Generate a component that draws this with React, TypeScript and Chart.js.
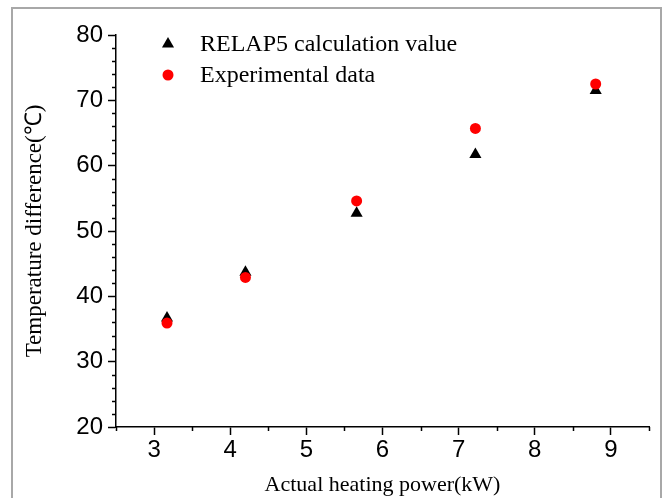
import React, { useEffect, useRef } from "react";
import { Chart, registerables } from "chart.js";

Chart.register(...registerables);

const heatingPower = [3.17, 4.2, 5.66, 7.22, 8.8];
const relap5Values = [36.7, 43.7, 52.7, 61.7, 71.5];
const experimentalValues = [35.9, 42.9, 54.6, 65.7, 72.5];
const seriesLabels = ["RELAP5 calculation value", "Experimental data"];
const xTickValues = [3, 4, 5, 6, 7, 8, 9];
const yTickValues = [20, 30, 40, 50, 60, 70, 80];
const xTitle = "Actual heating power(kW)";
const yTitle = "Temperature difference(\u2103)";

const SERIF = "'Liberation Serif', 'Times New Roman', serif";
const SANS = "'Liberation Sans', Arial, sans-serif";

const extrasPlugin = {
  id: "extras",
  afterDraw(chart: any) {
    const ctx = chart.ctx as CanvasRenderingContext2D;
    const xs = chart.scales.x;
    const ys = chart.scales.y;
    const area = chart.chartArea;
    ctx.save();
    ctx.strokeStyle = "#000";
    ctx.lineWidth = 1.5;
    // minor ticks on y
    for (let v = 22; v < 80; v += 2) {
      if (v % 10 === 0) continue;
      const py = Math.round(ys.getPixelForValue(v)) + 0.5;
      ctx.beginPath();
      ctx.moveTo(area.left - 4, py);
      ctx.lineTo(area.left, py);
      ctx.stroke();
    }
    // minor ticks on x
    for (let v = 2.5; v <= 9.5; v += 1) {
      const px = Math.round(xs.getPixelForValue(v)) + 0.5;
      ctx.beginPath();
      ctx.moveTo(px, area.bottom);
      ctx.lineTo(px, area.bottom + 4);
      ctx.stroke();
    }
    // legend
    const lx = 168;
    const ly1 = 44;
    const ly2 = 75;
    ctx.fillStyle = "#000";
    ctx.beginPath();
    const r = 7;
    ctx.moveTo(lx, ly1 - r);
    ctx.lineTo(lx + r * Math.sin((2 * Math.PI) / 3), ly1 - r * Math.cos((2 * Math.PI) / 3));
    ctx.lineTo(lx + r * Math.sin((4 * Math.PI) / 3), ly1 - r * Math.cos((4 * Math.PI) / 3));
    ctx.closePath();
    ctx.fill();
    ctx.fillStyle = "#ff0000";
    ctx.beginPath();
    ctx.arc(lx, ly2, 5.5, 0, Math.PI * 2);
    ctx.fill();
    ctx.fillStyle = "#000";
    ctx.font = `24px ${SERIF}`;
    ctx.textBaseline = "middle";
    ctx.textAlign = "left";
    ctx.fillText(seriesLabels[0], 200, ly1 + 1);
    ctx.fillText(seriesLabels[1], 200, ly2 + 1);
    ctx.restore();
  },
};

export default function App() {
  const canvasRef = useRef<HTMLCanvasElement | null>(null);

  useEffect(() => {
    const canvas = canvasRef.current;
    if (!canvas) return;
    const chart = new Chart(canvas, {
      type: "scatter",
      data: {
        datasets: [
          {
            label: seriesLabels[0],
            data: heatingPower.map((x, i) => ({ x, y: relap5Values[i] })),
            pointStyle: "triangle",
            pointRadius: 7,
            pointBackgroundColor: "#000",
            pointBorderColor: "#000",
            pointBorderWidth: 0,
            order: 1,
          },
          {
            label: seriesLabels[1],
            data: heatingPower.map((x, i) => ({ x, y: experimentalValues[i] })),
            pointStyle: "circle",
            pointRadius: 5.5,
            pointBackgroundColor: "#ff0000",
            pointBorderColor: "#ff0000",
            pointBorderWidth: 0,
            order: 0,
          },
        ],
      },
      options: {
        animation: false,
        responsive: false,
        maintainAspectRatio: false,
        layout: { padding: { left: 0, right: 14, top: 35, bottom: 0 } },
        plugins: {
          legend: { display: false },
          tooltip: { enabled: false },
        },
        scales: {
          x: {
            type: "linear",
            position: "bottom",
            min: 2.5,
            max: 9.5,
            afterBuildTicks(scale: any) {
              scale.ticks = xTickValues.map((v) => ({ value: v }));
            },
            ticks: {
              color: "#000",
              font: { family: SANS, size: 24 },
              padding: 1,
              maxRotation: 0,
              autoSkip: false,
            },
            grid: {
              drawOnChartArea: false,
              drawTicks: true,
              tickLength: 8,
              tickColor: "#000",
              tickWidth: 1.5,
            },
            border: { color: "#000", width: 1.5 },
            title: {
              display: true,
              text: xTitle,
              color: "#000",
              font: { family: SERIF, size: 22 },
              padding: { top: 0, bottom: 0 },
            },
            afterFit(scale: any) {
              scale.height = 71;
            },
          },
          y: {
            type: "linear",
            min: 20,
            max: 80,
            afterBuildTicks(scale: any) {
              scale.ticks = yTickValues.map((v) => ({ value: v }));
            },
            ticks: {
              color: "#000",
              font: { family: SANS, size: 24 },
              padding: 5,
              autoSkip: false,
            },
            grid: {
              drawOnChartArea: false,
              drawTicks: true,
              tickLength: 8,
              tickColor: "#000",
              tickWidth: 1.5,
            },
            border: { color: "#000", width: 1.5 },
            title: {
              display: true,
              text: yTitle,
              color: "#000",
              font: { family: SERIF, size: 23 },
              padding: { top: 21, bottom: 0 },
            },
            afterFit(scale: any) {
              scale.width = 116;
            },
          },
        },
      },
      plugins: [extrasPlugin],
    });
    return () => chart.destroy();
  }, []);

  return (
    <div
      style={{
        position: "fixed",
        left: 0,
        top: 0,
        width: 663,
        height: 498,
        background: "#fff",
        overflow: "hidden",
      }}
    >
      <div
        style={{
          position: "absolute",
          left: 11,
          top: 7,
          width: 647,
          height: 520,
          borderLeft: "2px solid #a8a8a8",
          borderTop: "2px solid #a8a8a8",
          borderRight: "2px solid #a8a8a8",
        }}
      />
      <canvas
        ref={canvasRef}
        width={663}
        height={498}
        style={{ position: "absolute", left: 0, top: 0, width: 663, height: 498 }}
      />
    </div>
  );
}
